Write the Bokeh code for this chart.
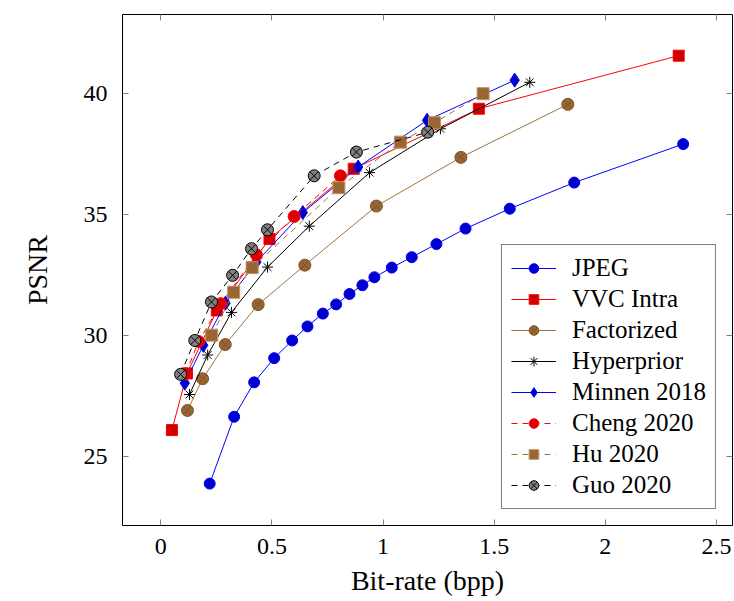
from bokeh.plotting import figure
from bokeh.models import Range1d, LinearAxis, FixedTicker
from bokeh.embed import file_html
from bokeh.resources import INLINE

# ---- data ----
jpeg_bpp = [0.220, 0.330, 0.420, 0.510, 0.591, 0.660, 0.729, 0.789, 0.849, 0.907,
            0.961, 1.039, 1.129, 1.240, 1.371, 1.570, 1.860, 2.350]
jpeg_psnr = [23.90, 26.66, 28.08, 29.08, 29.81, 30.39, 30.92, 31.30, 31.73, 32.09,
             32.42, 32.82, 33.25, 33.79, 34.43, 35.25, 36.33, 37.92]

vvc_bpp = [0.050, 0.118, 0.252, 0.489, 0.868, 1.431, 2.330]
vvc_psnr = [26.11, 28.45, 31.05, 34.00, 36.90, 39.38, 41.57]

fact_bpp = [0.120, 0.188, 0.290, 0.438, 0.648, 0.970, 1.350, 1.831]
fact_psnr = [26.92, 28.23, 29.64, 31.29, 32.92, 35.36, 37.37, 39.56]

hyper_bpp = [0.129, 0.211, 0.318, 0.480, 0.668, 0.939, 1.258, 1.660]
hyper_psnr = [27.58, 29.21, 30.97, 32.84, 34.53, 36.74, 38.55, 40.47]

minnen_bpp = [0.108, 0.191, 0.291, 0.430, 0.639, 0.888, 1.198, 1.592]
minnen_psnr = [28.05, 29.61, 31.35, 33.05, 35.09, 36.97, 38.90, 40.56]

cheng_bpp = [0.112, 0.170, 0.270, 0.430, 0.600, 0.808]
cheng_psnr = [28.44, 29.77, 31.33, 33.35, 34.93, 36.61]

hu_bpp = [0.229, 0.328, 0.411, 0.801, 1.078, 1.231, 1.450]
hu_psnr = [30.03, 31.80, 32.82, 36.12, 38.00, 38.80, 40.00]

guo_bpp = [0.089, 0.153, 0.228, 0.323, 0.408, 0.480, 0.690, 0.880, 1.201]
guo_psnr = [28.41, 29.81, 31.40, 32.50, 33.60, 34.38, 36.61, 37.59, 38.41]

x_ticks = [0, 0.5, 1, 1.5, 2, 2.5]
x_tick_labels = {0: "0", 0.5: "0.5", 1: "1", 1.5: "1.5", 2: "2", 2.5: "2.5"}
y_ticks = [25, 30, 35, 40]

FONT = "Liberation Serif"
TICK_SIZE = "24px"
LABEL_SIZE = "28px"

p = figure(frame_width=610, frame_height=511, output_backend="svg",
           toolbar_location=None,
           x_range=Range1d(-0.1723, 2.572), y_range=Range1d(22.17, 43.27),
           min_border_left=122, min_border_right=1, min_border_top=14,
           min_border_bottom=66)
p.background_fill_color = "white"
p.border_fill_color = "white"
p.outline_line_color = "black"
p.outline_line_width = 1
p.grid.visible = False

# main axes
for ax in (p.xaxis[0], p.yaxis[0]):
    ax.major_tick_in = 6
    ax.major_tick_out = 0
    ax.minor_tick_in = 0
    ax.minor_tick_out = 0
    ax.major_tick_line_color = "#808080"
    ax.axis_line_color = None
    ax.major_label_text_font = FONT
    ax.major_label_text_font_size = TICK_SIZE
    ax.major_label_text_color = "black"
    ax.axis_label_text_font = FONT
    ax.axis_label_text_font_size = LABEL_SIZE
    ax.axis_label_text_font_style = "normal"
    ax.axis_label_text_color = "black"

p.xaxis[0].ticker = FixedTicker(ticks=x_ticks)
p.xaxis[0].major_label_overrides = x_tick_labels
p.xaxis[0].axis_label = "Bit-rate (bpp)"
p.xaxis[0].major_label_standoff = 13
p.xaxis[0].axis_label_standoff = 8

p.yaxis[0].ticker = FixedTicker(ticks=y_ticks)
p.yaxis[0].axis_label = "PSNR"
p.yaxis[0].major_label_standoff = 15
p.yaxis[0].axis_label_standoff = 28

# mirrored ticks on top and right
top = LinearAxis(ticker=FixedTicker(ticks=x_ticks))
right = LinearAxis(ticker=FixedTicker(ticks=y_ticks))
for ax in (top, right):
    ax.major_tick_in = 6
    ax.major_tick_out = 0
    ax.minor_tick_in = 0
    ax.minor_tick_out = 0
    ax.major_tick_line_color = "#808080"
    ax.axis_line_color = None
    ax.major_label_text_font_size = "0px"
    ax.major_label_standoff = 0
    ax.major_label_text_alpha = 0
p.add_layout(top, "above")
p.add_layout(right, "right")

DASH = "6 5"

# JPEG
p.line(jpeg_bpp, jpeg_psnr, line_color="blue", line_width=1, legend_label="JPEG")
p.scatter(jpeg_bpp, jpeg_psnr, marker="circle", size=11, fill_color="#0000cc",
          line_color="#0000ff", legend_label="JPEG")
# VVC Intra
p.line(vvc_bpp, vvc_psnr, line_color="red", line_width=1, legend_label="VVC Intra")
p.scatter(vvc_bpp, vvc_psnr, marker="square", size=11, fill_color="#cc0000",
          line_color="#ff0000", legend_label="VVC Intra")
# Factorized
p.line(fact_bpp, fact_psnr, line_color="#a0723f", line_width=1, legend_label="Factorized")
p.scatter(fact_bpp, fact_psnr, marker="circle_x", size=12, fill_color="#996633",
          line_color="#7a5229", legend_label="Factorized")
# Hyperprior
p.line(hyper_bpp, hyper_psnr, line_color="black", line_width=1, legend_label="Hyperprior")
p.scatter(hyper_bpp, hyper_psnr, marker="asterisk", size=11, line_color="black",
          legend_label="Hyperprior")
# Minnen 2018
p.line(minnen_bpp, minnen_psnr, line_color="blue", line_width=1, legend_label="Minnen 2018")
p.scatter(minnen_bpp, minnen_psnr, marker="diamond", size=14, fill_color="#0000cc",
          line_color="#0000ff", legend_label="Minnen 2018")
# Cheng 2020
p.line(cheng_bpp, cheng_psnr, line_color="red", line_width=1, line_dash=DASH,
       legend_label="Cheng 2020")
p.scatter(cheng_bpp, cheng_psnr, marker="circle", size=12, fill_color="#dd0000",
          line_color="#ff0000", legend_label="Cheng 2020")
# Hu 2020
p.line(hu_bpp, hu_psnr, line_color="#a0723f", line_width=1, line_dash=DASH,
       legend_label="Hu 2020")
p.scatter(hu_bpp, hu_psnr, marker="square", size=12, fill_color="#996633",
          line_color="#bf8f60", legend_label="Hu 2020")
# Guo 2020
p.line(guo_bpp, guo_psnr, line_color="black", line_width=1, line_dash=DASH,
       legend_label="Guo 2020")
p.scatter(guo_bpp, guo_psnr, marker="circle_x", size=12, fill_color="#808080",
          line_color="black", legend_label="Guo 2020")

lg = p.legend[0]
lg.location = "bottom_right"
lg.margin = 16
lg.padding = 9
lg.spacing = 3
lg.glyph_width = 45
lg.glyph_height = 24
lg.label_height = 24
lg.label_standoff = 16
lg.label_text_font = FONT
lg.label_text_font_size = "25px"
lg.label_text_color = "black"
lg.border_line_color = "black"
lg.border_line_width = 1
lg.background_fill_alpha = 1

open("out.html", "w").write(file_html(p, INLINE))
